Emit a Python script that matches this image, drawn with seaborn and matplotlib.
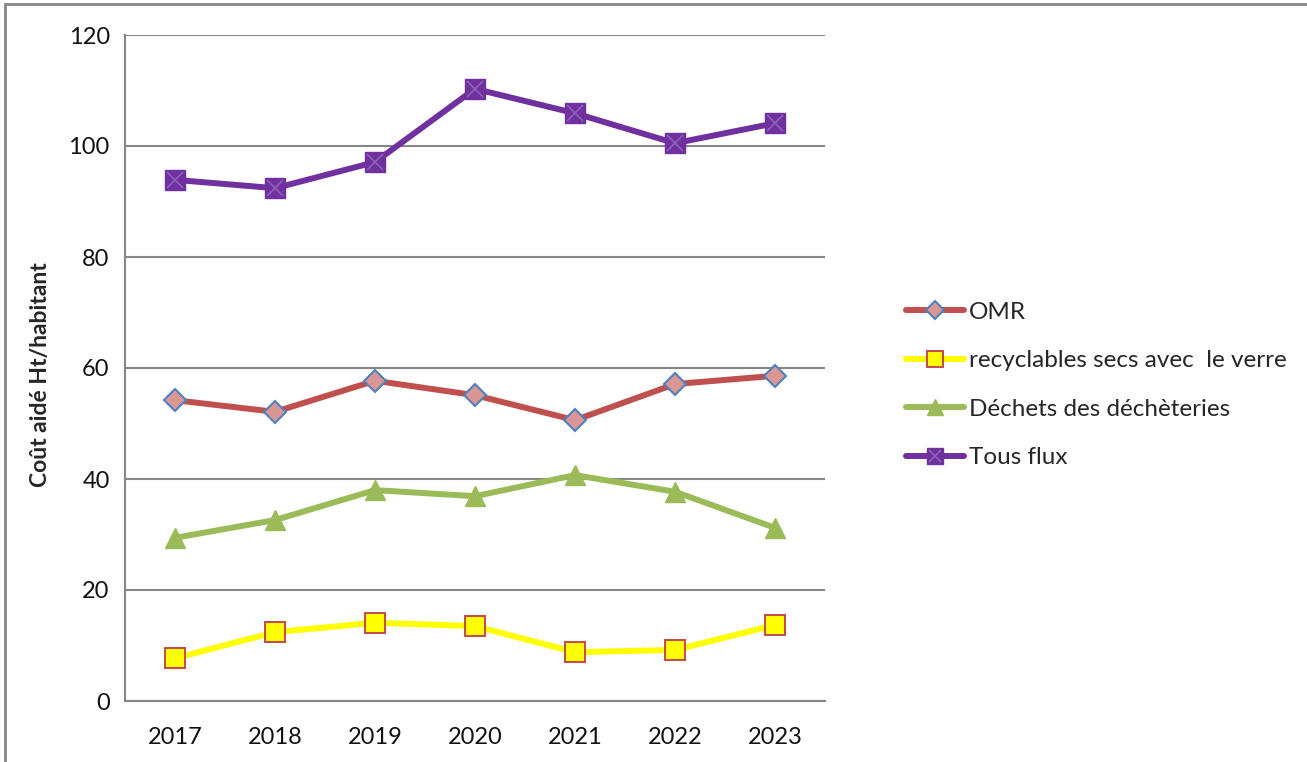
import matplotlib
matplotlib.use("Agg")
import matplotlib.pyplot as plt
import matplotlib.patches as mpatches
from matplotlib.lines import Line2D
from matplotlib.legend_handler import HandlerTuple
import seaborn as sns
import pandas as pd
import numpy as np

years = ["2017", "2018", "2019", "2020", "2021", "2022", "2023"]
omr = [54.2, 52.1, 57.7, 55.1, 50.6, 57.1, 58.6]
recyclables = [7.7, 12.4, 14.1, 13.5, 8.8, 9.2, 13.7]
decheteries = [29.4, 32.6, 38.0, 36.9, 40.7, 37.7, 31.2]
tous_flux = [93.9, 92.4, 97.1, 110.3, 105.9, 100.5, 104.1]
series_names = ["OMR", "recyclables secs avec  le verre", "Déchets des déchèteries", "Tous flux"]
y_ticks = [0, 20, 40, 60, 80, 100, 120]
y_label = "Coût aidé Ht/habitant"

sns.set_style("white")
plt.rcParams['font.family'] = ['Lato', 'DejaVu Sans']

df = pd.DataFrame({
    "pos": list(range(len(years))) * 4,
    "value": omr + recyclables + decheteries + tous_flux,
    "serie": sum([[n] * len(years) for n in series_names], []),
})

styles = {
    series_names[0]: dict(color="#C0504D", marker="D", mfc="#D99694", mec="#4F81BD", ms=11, mew=1.5),
    series_names[1]: dict(color="#FFFF00", marker="s", mfc="#FFFF00", mec="#C0504D", ms=14, mew=1.5),
    series_names[2]: dict(color="#9BBB59", marker="^", mfc="#9BBB59", mec="#9BBB59", ms=14, mew=1),
    series_names[3]: dict(color="#7030A0", marker="s", mfc="#7030A0", mec="#7030A0", ms=14, mew=1),
}

fig = plt.figure(figsize=(13.07, 7.62), dpi=100)
ax = fig.add_axes([125/1307, 1-701/762, 700/1307, 666/762])

handles = []
for name in series_names:
    st = styles[name]
    sub = df[df.serie == name]
    sns.lineplot(data=sub, x="pos", y="value", ax=ax, color=st["color"], linewidth=4.3,
                 marker=st["marker"], markersize=st["ms"], markerfacecolor=st["mfc"],
                 markeredgecolor=st["mec"], markeredgewidth=st["mew"], zorder=3, legend=False)
    h = Line2D([0], [0], color=st["color"], linewidth=4.3, marker=st["marker"],
               markersize=st["ms"] * 0.85, markerfacecolor=st["mfc"],
               markeredgecolor=st["mec"], markeredgewidth=st["mew"])
    handles.append(h)

# X overlay on Tous flux squares
sub = df[df.serie == series_names[3]]
ax.plot(sub["pos"], sub["value"], linestyle="none", marker="x", markersize=11,
        markeredgecolor="#8A63B5", markeredgewidth=1.2, zorder=4)
handles[3] = (handles[3], Line2D([0], [0], linestyle="none", marker="x", markersize=9,
                                 markeredgecolor="#8A63B5", markeredgewidth=1.2))

ax.set_xlim(-0.5, len(years) - 0.5)
ax.set_ylim(0, 120)
ax.set_yticks(y_ticks)
ax.set_yticklabels([str(t) for t in y_ticks], fontsize=17, color="#111111")
ax.set_xticks(range(len(years)))
ax.set_xticklabels(years, fontsize=17, color="#111111")
ax.set_xticks(np.arange(-0.5, len(years), 1.0), minor=True)
ax.tick_params(axis="x", which="major", length=0, pad=19)
ax.tick_params(axis="x", which="minor", length=7, color="#868686", width=1.5, direction="out")
ax.tick_params(axis="y", which="major", length=4, color="#868686", width=1.5, direction="out", pad=7)
ax.yaxis.grid(True, color="#868686", linewidth=1.5)
ax.set_axisbelow(True)
for s in ["top", "right"]:
    ax.spines[s].set_visible(False)
for s in ["left", "bottom"]:
    ax.spines[s].set_color("#868686")
    ax.spines[s].set_linewidth(1.5)
ax.set_xlabel("")
ax.set_ylabel(y_label, fontsize=16.5, fontweight="bold")
ax.yaxis.set_label_coords(-0.105, 0.49)

fig.legend(handles, series_names, loc="center left",
           bbox_to_anchor=(884/1307, 1-385/762), frameon=False, fontsize=17.5,
           handlelength=2.4, handletextpad=0.2, labelspacing=1.13,
           handler_map={tuple: HandlerTuple(ndivide=1)})

border = mpatches.Rectangle((5/1307, -0.05), 1.2, 1 - 4/762 + 0.05, transform=fig.transFigure,
                            fill=False, edgecolor="#868686", linewidth=2, zorder=10)
fig.patches.append(border)

fig.savefig("out.png", dpi=100)
